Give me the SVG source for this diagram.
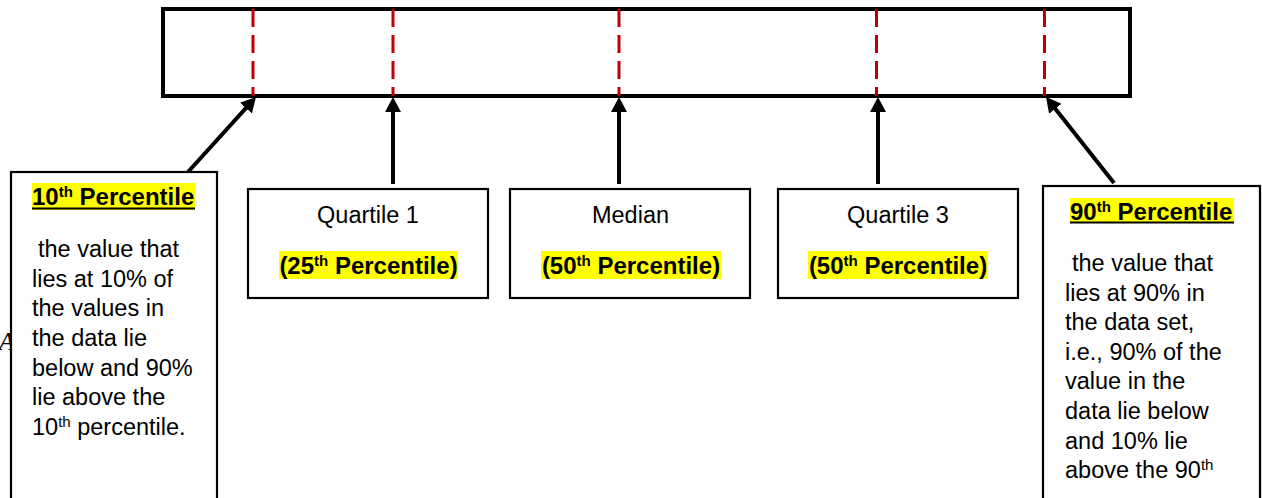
<svg xmlns="http://www.w3.org/2000/svg" width="1262" height="498" viewBox="0 0 1262 498">
<style>
.box{fill:#fff;stroke:#000;stroke-width:2.2}
.bar{fill:#fff;stroke:#000;stroke-width:4}
.dash{stroke:#c00000;stroke-width:3;stroke-dasharray:18 8;fill:none}
.arr{stroke:#000;stroke-width:4;fill:none;marker-end:url(#ah)}
.t{font-family:"Liberation Sans",Arial,sans-serif;font-size:23.5px;fill:#000}
.b{font-family:"Liberation Sans",Arial,sans-serif;font-size:24px;font-weight:bold;fill:#000}
.hl{fill:#ffff00}
.sup{font-size:15px}
</style>
<defs>
<marker id="ah" markerUnits="userSpaceOnUse" viewBox="0 0 15 16" markerWidth="15" markerHeight="16" refX="1" refY="8" orient="auto">
<path d="M0,0 L15,8 L0,16 Z" fill="#000"/>
</marker>
</defs>
<text x="-1" y="350" font-family="'Liberation Serif',serif" font-style="italic" font-size="25">A</text>
<g id="bar">
<rect class="bar" x="163" y="9" width="967" height="87"/>
<line class="dash" x1="253" y1="9" x2="253" y2="96"/>
<line class="dash" x1="393" y1="9" x2="393" y2="96"/>
<line class="dash" x1="619" y1="9" x2="619" y2="96"/>
<line class="dash" x1="876.5" y1="9" x2="876.5" y2="96"/>
<line class="dash" x1="1044.5" y1="9" x2="1044.5" y2="96"/>
</g>
<g id="connectors">
<line class="arr" x1="188" y1="172" x2="246.6" y2="107.4"/>
<line class="arr" x1="393" y1="184" x2="393" y2="111"/>
<line class="arr" x1="619" y1="184" x2="619" y2="111"/>
<line class="arr" x1="878" y1="184" x2="878" y2="111"/>
<line class="arr" x1="1114" y1="183" x2="1054.7" y2="108"/>
</g>
<g id="p10">
<rect class="box" x="11" y="172" width="206" height="330"/>
<rect class="hl" x="32" y="183" width="163" height="27"/>
<text class="b" x="32" y="205">10<tspan class="sup" dy="-8">th</tspan><tspan dy="8"> Percentile</tspan></text>
<rect x="32" y="207.5" width="163" height="2" fill="#000"/>
<text class="t" x="38" y="257">the value that</text>
<text class="t" x="32" y="286.5">lies at 10% of</text>
<text class="t" x="32" y="316">the values in</text>
<text class="t" x="32" y="346">the data lie</text>
<text class="t" x="32" y="375.5">below and 90%</text>
<text class="t" x="32" y="405">lie above the</text>
<text class="t" x="32" y="435">10<tspan class="sup" dy="-8">th</tspan><tspan dy="8"> percentile.</tspan></text>
</g>
<g id="q1">
<rect class="box" x="248" y="189" width="240" height="109"/>
<text class="t" x="368" y="223" text-anchor="middle">Quartile 1</text>
<rect class="hl" x="279" y="251" width="179" height="28"/>
<text class="b" x="368.5" y="274" text-anchor="middle">(25<tspan class="sup" dy="-8">th</tspan><tspan dy="8"> Percentile)</tspan></text>
</g>
<g id="median">
<rect class="box" x="510" y="189" width="240" height="109"/>
<text class="t" x="630.5" y="223" text-anchor="middle">Median</text>
<rect class="hl" x="541" y="251" width="180" height="28"/>
<text class="b" x="631" y="274" text-anchor="middle">(50<tspan class="sup" dy="-8">th</tspan><tspan dy="8"> Percentile)</tspan></text>
</g>
<g id="q3">
<rect class="box" x="778" y="189" width="240" height="109"/>
<text class="t" x="898" y="223" text-anchor="middle">Quartile 3</text>
<rect class="hl" x="808" y="251" width="180" height="28"/>
<text class="b" x="898" y="274" text-anchor="middle">(50<tspan class="sup" dy="-8">th</tspan><tspan dy="8"> Percentile)</tspan></text>
</g>
<g id="p90">
<rect class="box" x="1043" y="186" width="217" height="316"/>
<rect class="hl" x="1070" y="198" width="164" height="25"/>
<text class="b" x="1070" y="220">90<tspan class="sup" dy="-8">th</tspan><tspan dy="8"> Percentile</tspan></text>
<rect x="1070" y="221.5" width="164" height="2" fill="#000"/>
<text class="t" x="1072" y="271">the value that</text>
<text class="t" x="1065" y="300.5">lies at 90%  in</text>
<text class="t" x="1065" y="330">the data set,</text>
<text class="t" x="1065" y="359.5">i.e., 90% of the</text>
<text class="t" x="1065" y="389">value in the</text>
<text class="t" x="1065" y="419">data lie below</text>
<text class="t" x="1065" y="448.5">and 10% lie</text>
<text class="t" x="1065" y="478">above the 90<tspan class="sup" dy="-8">th</tspan></text>
</g>
</svg>
